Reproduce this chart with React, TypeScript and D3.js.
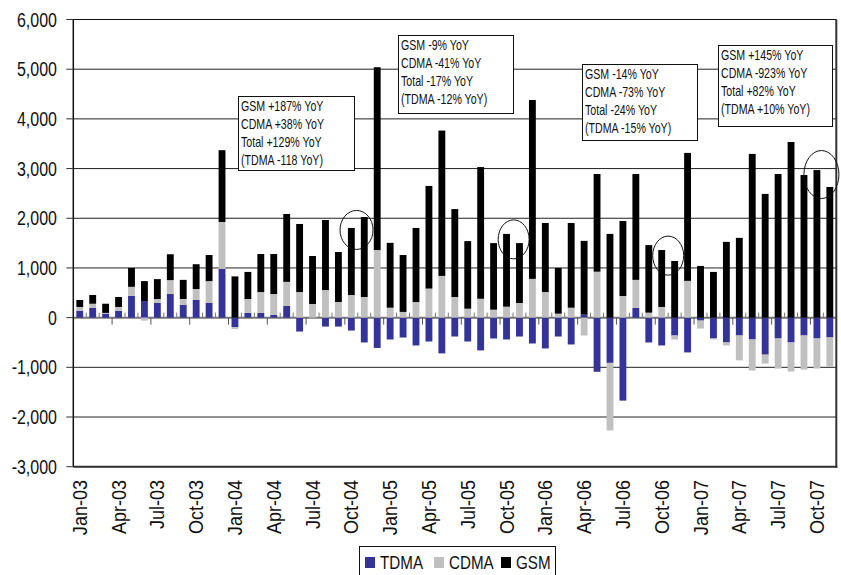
import React from "react";
import * as d3 from "d3";

// Monthly net additions by technology (thousands)
const months = [
  "Jan-03","Feb-03","Mar-03","Apr-03","May-03","Jun-03","Jul-03","Aug-03","Sep-03","Oct-03","Nov-03","Dec-03",
  "Jan-04","Feb-04","Mar-04","Apr-04","May-04","Jun-04","Jul-04","Aug-04","Sep-04","Oct-04","Nov-04","Dec-04",
  "Jan-05","Feb-05","Mar-05","Apr-05","May-05","Jun-05","Jul-05","Aug-05","Sep-05","Oct-05","Nov-05","Dec-05",
  "Jan-06","Feb-06","Mar-06","Apr-06","May-06","Jun-06","Jul-06","Aug-06","Sep-06","Oct-06","Nov-06","Dec-06",
  "Jan-07","Feb-07","Mar-07","Apr-07","May-07","Jun-07","Jul-07","Aug-07","Sep-07","Oct-07","Nov-07",
];

const tdma = [
  140, 200, 80, 140, 440, 335, 295, 475, 255, 355, 295, 980,
  -190, 95, 95, 55, 235, -280, 0, -180, -180, -260, -500, -610,
  -440, -400, -560, -480, -720, -380, -480, -660, -420, -440, -380, -520,
  -620, -380, -540, 60, -1090, -910, -1670, 195, -500, -560, -360, -700,
  -60, -420, -500, -360, -440, -745, -420, -500, -360, -420, -400,
];

const cdma = [
  75, 80, 15, 75, 180, -60, 80, 280, 120, 220, 440, 945,
  -40, 280, 420, 420, 485, 515, 275, 555, 315, 455, 415, 1360,
  200, 115, 315, 585, 840, 415, 180, 380, 160, 220, 295, 780,
  515, 80, 200, -360, 925, -1360, 435, 565, 100, 215, -80, 740,
  -160, -20, -60, -500, -625, -180, -605, -585, -685, -605, -585,
];

const gsm = [
  140, 175, 185, 200, 380, 400, 400, 520, 385, 500, 525, 1445,
  830, 545, 765, 805, 1365, 1370, 965, 1410, 1005, 1350, 1610, 3680,
  1305, 1145, 1490, 2065, 2925, 1770, 1360, 2650, 1340, 1465, 1205, 3600,
  1390, 920, 1705, 1485, 1965, 1685, 1510, 2130, 1360, 1145, 1140, 2575,
  1040, 920, 1525, 1605, 3295, 2490, 2890, 3535, 2870, 2970, 2630,
];

const seriesNames = ["TDMA", "CDMA", "GSM"];
const seriesColors = ["#333399", "#C0C0C0", "#000000"];

const yTicks = [-3000, -2000, -1000, 0, 1000, 2000, 3000, 4000, 5000, 6000];
const xTickLabels = [
  "Jan-03","Apr-03","Jul-03","Oct-03","Jan-04","Apr-04","Jul-04","Oct-04","Jan-05","Apr-05",
  "Jul-05","Oct-05","Jan-06","Apr-06","Jul-06","Oct-06","Jan-07","Apr-07","Jul-07","Oct-07",
];

const noteLines = [
  ["GSM +187% YoY", "CDMA +38% YoY", "Total +129% YoY", "(TDMA -118 YoY)"],
  ["GSM -9% YoY", "CDMA -41% YoY", "Total -17% YoY", "(TDMA -12% YoY)"],
  ["GSM -14% YoY", "CDMA -73% YoY", "Total -24% YoY", "(TDMA -15% YoY)"],
  ["GSM +145% YoY", "CDMA -923% YoY", "Total +82% YoY", "(TDMA +10% YoY)"],
];

// layout
const W = 841;
const H = 575;
const plot = { left: 73.3, right: 836.3, top: 19.5, bottom: 466.7 };
const FONT = "'Liberation Sans', Arial, sans-serif";

const noteBoxes = [
  { x: 238.5, y: 96.5, w: 116, h: 74 },
  { x: 398.5, y: 35.5, w: 115, h: 78 },
  { x: 582.5, y: 64.5, w: 115, h: 76 },
  { x: 718.5, y: 45.5, w: 114, h: 81 },
];

// ellipse markers: month, fraction of a step to the right, value at centre, radii
const rings = [
  { month: "Oct-04", shift: 0.4, value: 1765, rx: 16.5, ry: 19.5 },
  { month: "Oct-05", shift: 0.55, value: 1575, rx: 15.5, ry: 19.5 },
  { month: "Oct-06", shift: 0.5, value: 1248, rx: 15.5, ry: 19.5 },
  { month: "Oct-07", shift: 0.35, value: 2880, rx: 17.5, ry: 24 },
];

const locale = d3.formatLocale({ decimal: ".", thousands: ",", grouping: [3], currency: ["", ""], minus: "-" });
const fmt = locale.format(",");

// Horizontally compressed text, giving a narrow face from a regular sans
function NarrowText(props: {
  x: number;
  y: number;
  size: number;
  squeeze: number;
  anchor?: string;
  rotate?: number;
  dy?: string;
  children: React.ReactNode;
}) {
  const { x, y, size, squeeze, anchor, rotate, dy, children } = props;
  return (
    <text
      transform={`translate(${x},${y}) rotate(${rotate ?? 0}) scale(${squeeze},1)`}
      textAnchor={anchor ?? "start"}
      fontSize={size}
      dy={dy}
      fill="#111"
    >
      {children}
    </text>
  );
}

export default function App() {
  const rows = months.map((m, i) => ({ month: m, TDMA: tdma[i], CDMA: cdma[i], GSM: gsm[i] }));
  const stack = d3
    .stack<any>()
    .keys(seriesNames)
    .offset(d3.stackOffsetDiverging);
  const layers = stack(rows);

  const x = d3
    .scaleBand<string>()
    .domain(months)
    .range([plot.left, plot.right])
    .paddingInner(0.47)
    .paddingOuter(0.235);
  const step = x.step();
  const y = d3.scaleLinear().domain([-3000, 6000]).range([plot.bottom, plot.top]);

  const boundaryX = (i: number) => plot.left + step * i;

  return (
    <svg
      width={W}
      height={H}
      style={{ position: "absolute", left: 0, top: 0, background: "#fff" }}
      fontFamily={FONT}
    >
      {/* horizontal gridlines */}
      {yTicks.map((t) => (
        <line
          key={"g" + t}
          x1={plot.left}
          x2={plot.right}
          y1={y(t)}
          y2={y(t)}
          stroke={t === 0 ? "#777" : "#222"}
          strokeWidth={t === 0 ? 2 : 1}
        />
      ))}

      {/* stacked bars */}
      {layers.map((layer, li) => (
        <g key={seriesNames[li]} fill={seriesColors[li]}>
          {layer.map((d, i) => {
            const y0 = y(d[0]);
            const y1 = y(d[1]);
            const top = Math.min(y0, y1);
            const h = Math.abs(y0 - y1);
            if (h < 0.01) return null;
            return <rect key={i} x={x(months[i])} y={top} width={x.bandwidth()} height={h} />;
          })}
        </g>
      ))}

      {/* category axis ticks on the zero line */}
      {d3.range(1, months.length).map((i) =>
        i % 3 === 0 ? (
          <line key={"t" + i} x1={boundaryX(i)} x2={boundaryX(i)} y1={y(0)} y2={y(0) + 7} stroke="#555" strokeWidth={1} />
        ) : (
          <line key={"t" + i} x1={boundaryX(i)} x2={boundaryX(i)} y1={y(0) - 5} y2={y(0)} stroke="#777" strokeWidth={1} />
        )
      )}

      {/* frame */}
      <line x1={plot.left} x2={plot.left} y1={plot.top} y2={plot.bottom} stroke="#111" strokeWidth={1.5} />
      <line x1={plot.right} x2={plot.right} y1={plot.top} y2={plot.bottom + 1} stroke="#333" strokeWidth={2} />
      <line x1={plot.left} x2={plot.right} y1={plot.top} y2={plot.top} stroke="#111" strokeWidth={1.2} />
      <line x1={plot.left} x2={plot.right + 1} y1={plot.bottom} y2={plot.bottom} stroke="#333" strokeWidth={2} />

      {/* value axis */}
      {yTicks.map((t) => (
        <g key={"y" + t}>
          <line x1={plot.left - 7} x2={plot.left} y1={y(t)} y2={y(t)} stroke="#333" strokeWidth={1} />
          <NarrowText x={57} y={y(t)} dy="0.36em" anchor="end" size={19.5} squeeze={0.82}>
            {fmt(t)}
          </NarrowText>
        </g>
      ))}

      {/* month labels */}
      {xTickLabels.map((lab) => {
        const cx = (x(lab) ?? 0) + x.bandwidth() / 2;
        return (
          <NarrowText key={lab} x={cx + 7} y={480} rotate={-90} anchor="end" size={20.5} squeeze={0.88}>
            {lab}
          </NarrowText>
        );
      })}

      {/* ellipse markers */}
      {rings.map((r, i) => (
        <ellipse
          key={"r" + i}
          cx={(x(r.month) ?? 0) + step * r.shift + x.bandwidth() / 2}
          cy={y(r.value)}
          rx={r.rx}
          ry={r.ry}
          fill="none"
          stroke="#111"
          strokeWidth={1}
        />
      ))}

      {/* annotation boxes */}
      {noteBoxes.map((b, i) => (
        <g key={"n" + i}>
          <rect x={b.x} y={b.y} width={b.w} height={b.h} fill="#fff" stroke="#111" strokeWidth={1} />
          {noteLines[i].map((ln, j) => (
            <NarrowText key={j} x={b.x + 2.5} y={b.y + 14.5 + j * 18} size={14} squeeze={0.76}>
              {ln}
            </NarrowText>
          ))}
        </g>
      ))}

      {/* legend */}
      <g>
        <rect x={359.5} y={546.5} width={196} height={31} fill="#fff" stroke="#111" strokeWidth={1} />
        {[365, 434, 501].map((lx, i) => (
          <g key={seriesNames[i]}>
            <rect x={lx} y={557} width={10} height={11} fill={seriesColors[i]} />
            <NarrowText x={lx + 15} y={569} size={19} squeeze={0.8}>
              {seriesNames[i]}
            </NarrowText>
          </g>
        ))}
      </g>
    </svg>
  );
}
